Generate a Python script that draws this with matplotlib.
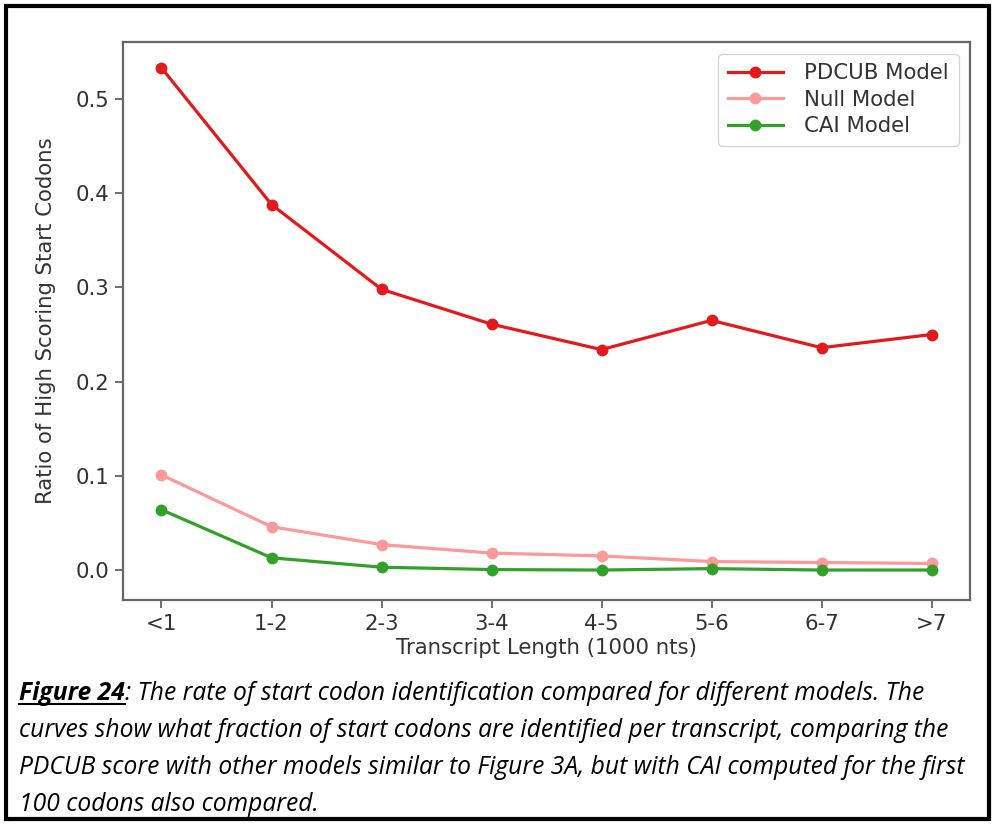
import matplotlib
matplotlib.use("Agg")
import matplotlib.pyplot as plt
from matplotlib.patches import Rectangle
from matplotlib.lines import Line2D

plt.rcParams["font.family"] = ["DejaVu Sans"]

categories = ["<1", "1-2", "2-3", "3-4", "4-5", "5-6", "6-7", ">7"]
pdcub = [0.533, 0.388, 0.298, 0.261, 0.234, 0.265, 0.236, 0.250]
null_model = [0.101, 0.046, 0.027, 0.018, 0.015, 0.009, 0.008, 0.007]
cai = [0.064, 0.013, 0.003, 0.0005, 0.0, 0.0015, 0.0, 0.0]

series_labels = ["PDCUB Model", "Null Model", "CAI Model"]
colors = ["#e31a1c", "#fb9a99", "#33a02c"]

caption_lines = [
    ": The rate of start codon identification compared for different models. The",
    "curves show what fraction of start codons are identified per transcript, comparing the",
    "PDCUB score with other models similar to Figure 3A, but with CAI computed for the first",
    "100 codons also compared.",
]

W, H = 995, 825
fig = plt.figure(figsize=(W / 100, H / 100), dpi=100)
fig.patch.set_facecolor("white")

ax = fig.add_axes([123 / W, 1 - 600 / H, (970 - 123) / W, (600 - 42) / H])
x = list(range(len(categories)))
txtc = "#333333"
fs = 15.3
for vals, lab, c in zip([pdcub, null_model, cai], series_labels, colors):
    ax.plot(x, vals, color=c, lw=2.3, marker="o", ms=7.5, label=lab)

ax.set_xticks(x)
ax.set_xticklabels(categories)
ax.set_xlim(-0.35, 7.35)
ax.set_ylim(-0.0318, 0.5605)
ax.set_yticks([0.0, 0.1, 0.2, 0.3, 0.4, 0.5])
ax.set_yticklabels(["0.0", "0.1", "0.2", "0.3", "0.4", "0.5"])
ax.tick_params(labelsize=fs, colors="#555555", labelcolor=txtc, length=6, width=1.2, pad=4)
for s in ax.spines.values():
    s.set_color("#666666")
    s.set_linewidth(1.6)
ax.set_xlabel("Transcript Length (1000 nts)", fontsize=fs, color=txtc, labelpad=3)
ax.set_ylabel("Ratio of High Scoring Start Codons", fontsize=fs, color=txtc, labelpad=14)
leg = ax.legend(loc="upper right", fontsize=fs, frameon=True, handlelength=2.6,
                borderpad=0.45, labelspacing=0.3, handletextpad=1.0,
                bbox_to_anchor=(0.999, 0.998))
for t in leg.get_texts():
    t.set_color(txtc)
leg.get_frame().set_edgecolor("#cccccc")

# outer border
fig.add_artist(Rectangle((6 / W, 6 / H), (989 - 6) / W, (819 - 6) / H, transform=fig.transFigure,
                         fill=False, edgecolor="black", linewidth=3))

# caption
cap_font = dict(family="Open Sans", style="italic", fontsize=17.7, color="black")
x0 = 19 / W
base0 = 700
step = 37
t0 = fig.text(x0, 1 - base0 / H, "Figure 24", fontweight="bold", va="baseline", **cap_font)
fig.canvas.draw()
r = fig.canvas.get_renderer()
bb = t0.get_window_extent(r)
fig.add_artist(Line2D([bb.x0 / W, bb.x1 / W], [1 - (base0 + 4) / H] * 2, color="black", lw=1.5,
                      transform=fig.transFigure))
fig.text(bb.x1 / W, 1 - base0 / H, caption_lines[0], va="baseline", **cap_font)
for i, line in enumerate(caption_lines[1:], start=1):
    fig.text(x0, 1 - (base0 + i * step) / H, line, va="baseline", **cap_font)

fig.savefig("out.png", dpi=100)
